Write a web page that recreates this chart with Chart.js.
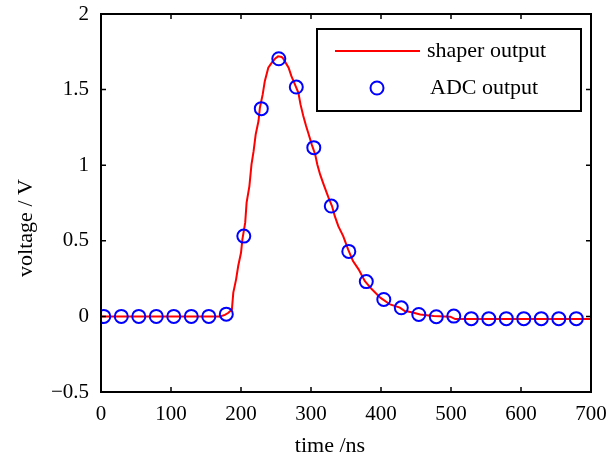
<!DOCTYPE html>
<html>
<head>
<meta charset="utf-8">
<script src="https://cdn.jsdelivr.net/npm/chart.js@4/dist/chart.umd.min.js"></script>
<style>
  html, body { margin: 0; padding: 0; background: #fff; }
  #wrap { width: 613px; height: 460px; }
</style>
</head>
<body>
<div id="wrap"><canvas id="chart" width="613" height="460"></canvas></div>
<script>
// shaper output (ns, V)
const shaperTime = [0, 170, 177, 182, 187, 189, 193, 196, 200, 202, 206, 208, 212, 215, 218, 221, 225, 227,
    231, 234, 239, 244, 249, 253, 258, 260, 268, 272, 277, 282, 285, 289, 293, 296, 301, 306, 309, 313, 318,
    325, 330, 334, 339, 346, 353, 360, 368, 377, 387, 399, 413, 427, 434, 444, 456, 475, 499, 506, 700];
const shaperVolt = [0, 0, 0.01, 0.024, 0.046, 0.157, 0.245, 0.333, 0.421, 0.509, 0.62, 0.752, 0.862, 1.005,
    1.093, 1.204, 1.292, 1.38, 1.468, 1.556, 1.645, 1.678, 1.706, 1.72, 1.716, 1.708, 1.645, 1.589, 1.534,
    1.479, 1.402, 1.325, 1.259, 1.215, 1.138, 1.071, 1.005, 0.939, 0.873, 0.785, 0.73, 0.663, 0.597, 0.531,
    0.443, 0.366, 0.311, 0.233, 0.179, 0.124, 0.079, 0.058, 0.035, 0.028, 0.013, 0.002, -0.002, -0.018, -0.018];

// ADC samples (ns, V)
const adcTime = [4, 29, 54, 79, 104, 129, 154, 179, 204, 229, 254, 279, 304, 329, 354, 379, 404, 429,
    454, 479, 504, 529, 554, 579, 604, 629, 654, 679];
const adcVolt = [0, 0, 0, 0, 0, 0, 0, 0.015, 0.531, 1.374, 1.704, 1.517, 1.116, 0.73, 0.43, 0.23, 0.112,
    0.057, 0.013, -0.002, 0.002, -0.015, -0.015, -0.015, -0.015, -0.015, -0.015, -0.015];

const xTicks = [0, 100, 200, 300, 400, 500, 600, 700];
const yTicks = [-0.5, 0, 0.5, 1, 1.5, 2];
const yTickText = ['\u22120.5', '0', '0.5', '1', '1.5', '2'];

const FONT = '"Liberation Serif", "DejaVu Serif", serif';
const RED = '#ff0000';
const BLUE = '#0000ff';

const toXY = (xs, ys) => xs.map((x, i) => ({ x, y: ys[i] }));

// inward ticks, frame, axis titles and the boxed legend
const framePlugin = {
    id: 'frame',
    afterDraw(chart) {
        const { ctx, chartArea: a, scales } = chart;
        const sx = scales.x, sy = scales.y;
        const len = 5;

        ctx.save();
        ctx.strokeStyle = '#000';
        ctx.lineWidth = 1.5;
        ctx.beginPath();
        xTicks.forEach(v => {
            const px = sx.getPixelForValue(v);
            ctx.moveTo(px, a.bottom); ctx.lineTo(px, a.bottom - len);
            ctx.moveTo(px, a.top); ctx.lineTo(px, a.top + len);
        });
        yTicks.forEach(v => {
            const py = sy.getPixelForValue(v);
            ctx.moveTo(a.left, py); ctx.lineTo(a.left + len, py);
            ctx.moveTo(a.right, py); ctx.lineTo(a.right - len, py);
        });
        ctx.stroke();

        ctx.lineWidth = 2;
        ctx.strokeRect(a.left, a.top, a.right - a.left, a.bottom - a.top);

        // axis titles
        ctx.fillStyle = '#000';
        ctx.font = '22px ' + FONT;
        ctx.textAlign = 'center';
        ctx.textBaseline = 'middle';
        ctx.fillText('time /ns', 330, 446);
        ctx.save();
        ctx.translate(26, 228);
        ctx.rotate(-Math.PI / 2);
        ctx.fillText('voltage / V', 0, 0);
        ctx.restore();

        // legend box
        const lx = 317, ly = 29, lw = 264, lh = 82;
        ctx.fillStyle = '#fff';
        ctx.fillRect(lx, ly, lw, lh);
        ctx.lineWidth = 2;
        ctx.strokeRect(lx, ly, lw, lh);

        ctx.strokeStyle = RED;
        ctx.lineWidth = 2;
        ctx.beginPath();
        ctx.moveTo(lx + 18, ly + 22);
        ctx.lineTo(lx + 103, ly + 22);
        ctx.stroke();

        ctx.strokeStyle = BLUE;
        ctx.beginPath();
        ctx.arc(lx + 60, ly + 59, 6.5, 0, Math.PI * 2);
        ctx.stroke();

        ctx.fillStyle = '#000';
        ctx.textAlign = 'left';
        ctx.fillText('shaper output', lx + 110, ly + 22);
        ctx.fillText('ADC output', lx + 113, ly + 59);
        ctx.restore();
    }
};

new Chart(document.getElementById('chart'), {
    type: 'scatter',
    data: {
        datasets: [
            {
                label: 'shaper output',
                data: toXY(shaperTime, shaperVolt),
                showLine: true,
                borderColor: RED,
                borderWidth: 2,
                pointRadius: 0,
                tension: 0,
                order: 2,
            },
            {
                label: 'ADC output',
                data: toXY(adcTime, adcVolt),
                showLine: false,
                borderColor: BLUE,
                backgroundColor: 'rgba(0,0,0,0)',
                borderWidth: 2,
                pointRadius: 6.5,
                order: 1,
            },
        ],
    },
    options: {
        responsive: false,
        animation: false,
        events: [],
        layout: { padding: { top: 14, right: 22, left: 0, bottom: 0 } },
        plugins: {
            legend: { display: false },
            tooltip: { enabled: false },
        },
        scales: {
            x: {
                type: 'linear',
                min: 0,
                max: 700,
                afterFit: s => {
                    s.height = 68;
                    s.paddingLeft = 0;
                    s.paddingRight = 0;
                },
                afterBuildTicks: s => { s.ticks = xTicks.map(v => ({ value: v })); },
                grid: { display: false, drawTicks: false },
                border: { display: false },
                ticks: {
                    color: '#000',
                    font: { family: FONT, size: 21 },
                    padding: 10,
                    maxRotation: 0,
                },
            },
            y: {
                type: 'linear',
                min: -0.5,
                max: 2,
                afterFit: s => {
                    s.width = 101;
                    s.paddingTop = 0;
                    s.paddingBottom = 0;
                },
                afterBuildTicks: s => { s.ticks = yTicks.map(v => ({ value: v })); },
                grid: { display: false, drawTicks: false },
                border: { display: false },
                ticks: {
                    color: '#000',
                    font: { family: FONT, size: 21 },
                    padding: 12,
                    callback: v => yTickText[yTicks.indexOf(v)],
                },
            },
        },
    },
    plugins: [framePlugin],
});
</script>
</body>
</html>
